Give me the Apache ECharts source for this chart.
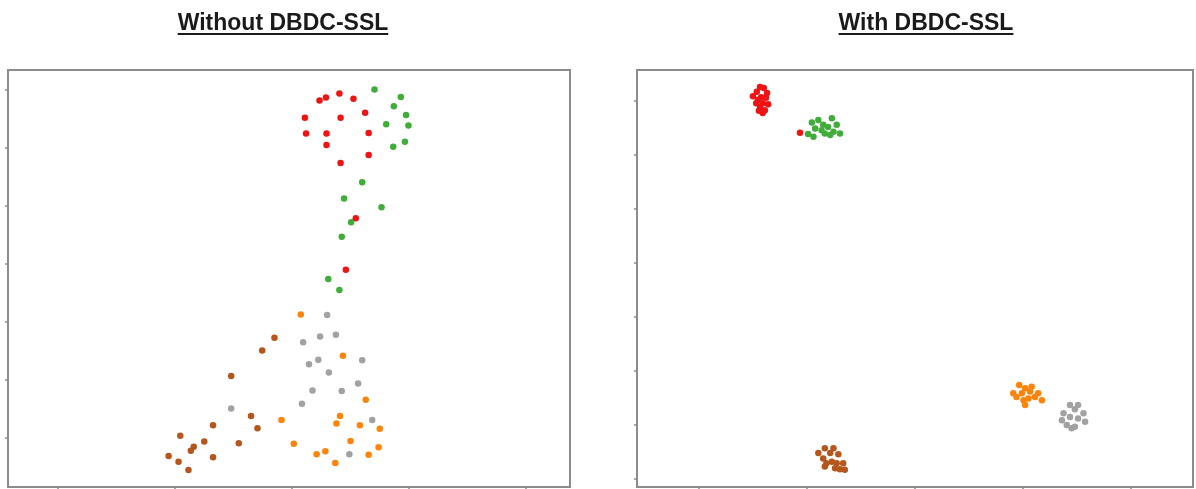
<!DOCTYPE html>
<html>
<head>
<meta charset="utf-8">
<script src="https://cdn.jsdelivr.net/npm/echarts@6/dist/echarts.min.js"></script>
<style>
  html, body { margin: 0; padding: 0; background: #ffffff; }
  #chart { width: 1196px; height: 489px; }
</style>
</head>
<body>
<div id="chart"></div>
<script>
// Panel titles
const panelTitles = ['Without DBDC-SSL', 'With DBDC-SSL'];

// Class colours (shared by both embeddings)
const classColors = {
  red: '#ee1414',
  green: '#40ad3a',
  orange: '#fd840a',
  gray: '#a2a2a2',
  brown: '#b5561d'
};

// Embedding without DBDC-SSL: [x, y]
const leftGreen = [
  [14.1, 30.1], [18.6, 28.8], [17.4, 27.2], [19.5, 25.7], [16.1, 24.1], [19.9, 23.9],
  [19.3, 21.1], [17.3, 20.2], [12.0, 14.1], [8.9, 11.3], [15.3, 9.8], [10.1, 7.2],
  [8.5, 4.7], [6.2, -2.6], [8.1, -4.5]
];
const leftRed = [
  [4.7, 28.2], [5.8, 28.7], [8.1, 29.4], [10.5, 28.5], [2.2, 25.2], [8.3, 25.2],
  [12.5, 26.1], [2.4, 22.5], [5.9, 22.5], [13.1, 22.6], [5.9, 20.5], [13.1, 18.8],
  [8.3, 17.4], [10.9, 7.9], [9.2, -1.0]
];
const leftGray = [
  [6.0, -8.8], [4.8, -12.5], [7.5, -12.2], [1.9, -13.5], [4.5, -16.5], [2.9, -17.3],
  [12.0, -16.6], [6.3, -18.7], [11.3, -20.6], [3.5, -21.8], [8.5, -21.9], [1.7, -24.1],
  [-10.4, -24.9], [13.7, -26.9], [9.8, -32.8]
];
const leftOrange = [
  [1.5, -8.7], [8.7, -15.8], [12.6, -23.4], [-1.8, -26.9], [8.2, -26.2], [7.6, -27.5],
  [11.6, -27.8], [15.0, -28.4], [0.3, -31.0], [10.0, -30.5], [14.8, -31.6], [5.7, -32.3],
  [4.2, -32.8], [13.1, -32.9], [7.4, -34.3]
];
const leftBrown = [
  [-3.0, -12.7], [-5.1, -14.9], [-10.4, -19.3], [-7.0, -26.2], [-5.9, -28.3], [-13.5, -27.8],
  [-19.1, -29.6], [-15.0, -30.6], [-9.1, -30.9], [-16.8, -31.5], [-17.3, -32.2], [-21.1, -33.1],
  [-13.5, -33.3], [-19.4, -34.1], [-17.7, -35.5]
];

// Embedding with DBDC-SSL: [x, y]
const rightGreen = [
  [-19.1, 26.0], [-17.9, 26.5], [-17.0, 25.6], [-15.4, 26.8], [-18.5, 24.9], [-17.3, 24.6],
  [-16.1, 25.2], [-14.5, 25.6], [-15.1, 24.3], [-13.9, 24.0], [-19.8, 23.9], [-18.8, 23.4],
  [-16.7, 24.0], [-15.7, 23.7]
];
const rightRed = [
  [-28.7, 32.6], [-28.0, 32.4], [-29.3, 31.7], [-27.4, 31.5], [-30.0, 30.9], [-28.5, 30.7],
  [-27.6, 30.6], [-29.1, 30.2], [-29.4, 29.6], [-28.2, 29.6], [-27.2, 29.4], [-28.7, 28.9],
  [-27.8, 28.3], [-28.2, 27.8], [-28.9, 28.2], [-21.3, 24.1]
];
const rightGray = [
  [28.7, -26.3], [30.2, -26.3], [29.6, -27.1], [31.2, -27.8], [27.2, -29.1], [28.7, -28.5],
  [30.2, -28.8], [28.1, -30.0], [29.6, -30.3], [29.0, -30.6], [31.5, -29.4], [27.5, -27.8]
];
const rightOrange = [
  [19.3, -22.6], [20.4, -23.2], [21.6, -22.9], [18.2, -24.1], [19.8, -24.1], [21.3, -23.8],
  [22.8, -24.1], [23.5, -25.4], [20.1, -25.4], [21.0, -25.1], [20.4, -26.3], [18.8, -24.8],
  [22.2, -24.8]
];
const rightBrown = [
  [-16.7, -34.3], [-15.1, -34.3], [-17.9, -35.2], [-15.7, -35.2], [-14.2, -35.4], [-17.0, -36.2],
  [-16.4, -37.1], [-15.4, -36.8], [-14.5, -37.1], [-13.3, -37.1], [-13.9, -38.2], [-13.0, -38.3],
  [-16.7, -37.7], [-14.8, -38.0]
];

// Tick positions on each panel's axes
const leftXTicks = [-40, -20, 0, 20, 40];
const leftYTicks = [-30, -20, -10, 0, 10, 20, 30];
const rightXTicks = [-40, -20, 0, 20, 40];
const rightYTicks = [-40, -30, -20, -10, 0, 10, 20, 30];

const chart = echarts.init(document.getElementById('chart'), null, { renderer: 'canvas' });

const panels = [
  { left: 8, top: 70, width: 562, height: 417, xr: [-48.55, 47.52], yr: [-38.45, 33.45], xt: leftXTicks, yt: leftYTicks },
  { left: 637, top: 70, width: 556, height: 417, xr: [-51.48, 51.48], yr: [-41.48, 35.74], xt: rightXTicks, yt: rightYTicks }
];

function valueAxis(range, ticks, gridIndex, position) {
  return {
    type: 'value',
    gridIndex: gridIndex,
    position: position,
    min: range[0],
    max: range[1],
    axisLine: { show: false, onZero: false },
    splitLine: { show: false },
    axisTick: {
      show: true, inside: false, length: 3,
      customValues: ticks,
      lineStyle: { color: '#8a8a8a', width: 1.5 }
    },
    axisLabel: { show: false, customValues: ticks }
  };
}

function scatter(name, data, color, axisIndex) {
  return {
    name: name,
    type: 'scatter',
    xAxisIndex: axisIndex,
    yAxisIndex: axisIndex,
    data: data,
    symbol: 'circle',
    symbolSize: 6.5,
    itemStyle: { color: color, opacity: 1 },
    emphasis: { disabled: true },
    silent: true
  };
}

// Underlines under the titles, sized from the rendered text width
const titleSize = 23;
const titleFont = 'bold ' + titleSize + 'px "Liberation Sans", Arial, sans-serif';
const measureCtx = document.createElement('canvas').getContext('2d');
measureCtx.font = titleFont;
const titleCenters = [283, 926];
const underlines = panelTitles.map((t, i) => {
  const w = measureCtx.measureText(t).width;
  return {
    type: 'rect',
    shape: { x: titleCenters[i] - w / 2, y: 33, width: w, height: 2 },
    style: { fill: '#1a1a1a' },
    silent: true
  };
});

chart.setOption({
  animation: false,
  backgroundColor: '#ffffff',
  title: panelTitles.map((t, i) => ({
    text: t,
    left: titleCenters[i],
    top: 12,
    padding: 0,
    textAlign: 'center',
    textStyle: {
      fontFamily: '"Liberation Sans", Arial, sans-serif',
      fontWeight: 'bold',
      fontSize: titleSize,
      color: '#1a1a1a'
    }
  })),
  graphic: underlines,
  grid: panels.map(p => ({
    left: p.left, top: p.top, width: p.width, height: p.height,
    show: true, borderColor: '#8c8c8c', borderWidth: 2, backgroundColor: '#ffffff'
  })),
  xAxis: panels.map((p, i) => valueAxis(p.xr, p.xt, i, 'bottom')),
  yAxis: panels.map((p, i) => valueAxis(p.yr, p.yt, i, 'left')),
  series: [
    scatter('green', leftGreen, classColors.green, 0),
    scatter('red', leftRed, classColors.red, 0),
    scatter('gray', leftGray, classColors.gray, 0),
    scatter('orange', leftOrange, classColors.orange, 0),
    scatter('brown', leftBrown, classColors.brown, 0),
    scatter('green', rightGreen, classColors.green, 1),
    scatter('red', rightRed, classColors.red, 1),
    scatter('gray', rightGray, classColors.gray, 1),
    scatter('orange', rightOrange, classColors.orange, 1),
    scatter('brown', rightBrown, classColors.brown, 1)
  ]
});
</script>
</body>
</html>
